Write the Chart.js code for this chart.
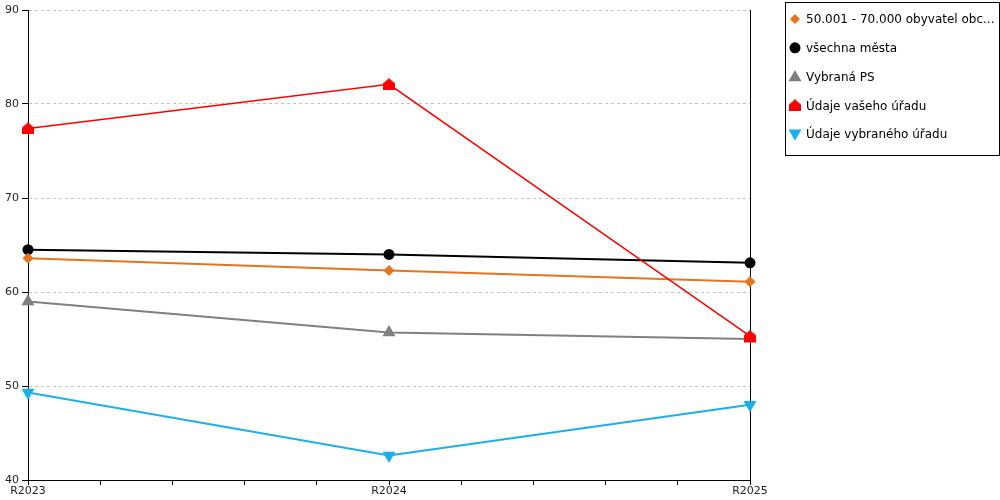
<!DOCTYPE html>
<html>
<head>
<meta charset="utf-8">
<script src="https://cdn.jsdelivr.net/npm/chart.js@4"></script>
<style>
  html, body { margin: 0; padding: 0; background: #fff; }
  #wrap { width: 1000px; height: 500px; }
</style>
</head>
<body>
<div id="wrap"><canvas id="trend"></canvas></div>
<script>
var categories = ['R2023', 'R2024', 'R2025'];
var obce = [63.6, 62.3, 61.1];
var mesta = [64.5, 64.0, 63.1];
var vybranaPS = [59.0, 55.7, 55.0];
var vasUrad = [77.4, 82.1, 55.3];
var vybranyUrad = [49.3, 42.6, 48.0];
var yTicks = [40, 50, 60, 70, 80, 90];

// house shaped marker for "Údaje vašeho úřadu"
function houseMarker(color) {
    var c = document.createElement('canvas');
    c.width = 12; c.height = 12;
    var g = c.getContext('2d');
    g.fillStyle = color;
    g.beginPath();
    g.moveTo(6, 0);
    g.lineTo(12, 5);
    g.lineTo(12, 12);
    g.lineTo(0, 12);
    g.lineTo(0, 5);
    g.closePath();
    g.fill();
    return c;
}
var house = houseMarker('#ff0000');

function pts(arr) {
    return arr.map(function (v, i) { return { x: i, y: v }; });
}

function series(label, arr, color, style, rot, width, radius) {
    return {
        label: label,
        data: pts(arr),
        borderColor: color,
        backgroundColor: color,
        pointBackgroundColor: color,
        pointBorderColor: color,
        pointBorderWidth: 0,
        borderWidth: width,
        pointStyle: style,
        rotation: rot,
        pointRadius: radius,
        pointHoverRadius: radius,
        clip: false,
        tension: 0
    };
}

var datasets = [
    series('50.001 - 70.000 obyvatel obc...', obce, '#e8731c', 'rectRot', 0, 2, 5.5),
    series('všechna města', mesta, '#000000', 'circle', 0, 2, 5.5),
    series('Vybraná PS', vybranaPS, '#808080', 'triangle', 0, 2, 7.5),
    series('Údaje vašeho úřadu', vasUrad, '#ff0000', house, 0, 1.5, 6),
    series('Údaje vybraného úřadu', vybranyUrad, '#1ab0ea', 'triangle', 180, 2, 7.5)
];
datasets[3].order = -1;

var legendRadius = [5, 5.5, 7.5, 6, 7.5];

var frame = {
    id: 'frame',
    beforeDatasetsDraw: function (chart) {
        var ctx = chart.ctx, a = chart.chartArea;
        ctx.save();
        ctx.strokeStyle = '#000';
        ctx.lineWidth = 1;
        ctx.beginPath();
        ctx.moveTo(Math.round(a.right) + 0.5, a.top);
        ctx.lineTo(Math.round(a.right) + 0.5, a.bottom);
        ctx.stroke();
        ctx.restore();
    },
    afterDraw: function (chart) {
        var ctx = chart.ctx;
        var bx = 785, by = 2, bw = 214, bh = 153;
        ctx.save();
        ctx.strokeStyle = '#000';
        ctx.lineWidth = 1;
        ctx.strokeRect(bx + 0.5, by + 0.5, bw, bh);
        ctx.font = '12px "DejaVu Sans"';
        ctx.textBaseline = 'middle';
        chart.data.datasets.forEach(function (ds, i) {
            var y = 19 + i * 28.8;
            ctx.fillStyle = ds.pointBackgroundColor;
            ctx.strokeStyle = ds.pointBorderColor;
            Chart.helpers.drawPoint(ctx, {
                pointStyle: ds.pointStyle,
                rotation: ds.rotation,
                radius: legendRadius[i],
                borderWidth: 0
            }, 795, y + (ds.pointStyle === 'triangle' ? (ds.rotation ? -1 : 1) : 0));
            ctx.fillStyle = '#000';
            ctx.fillText(ds.label, 806, y + 1);
        });
        ctx.restore();
    }
};

new Chart(document.getElementById('trend'), {
    type: 'line',
    data: { datasets: datasets },
    options: {
        responsive: true,
        maintainAspectRatio: false,
        animation: false,
        layout: { padding: { top: 10, right: 250, left: 0, bottom: 0 } },
        plugins: {
            legend: { display: false },
            tooltip: { enabled: false }
        },
        scales: {
            x: {
                type: 'linear',
                min: 0,
                max: categories.length - 1,
                afterFit: function (s) { s.height = 20; },
                afterBuildTicks: function (s) {
                    var t = [];
                    for (var k = 0; k <= 10; k++) t.push({ value: k * 0.2 });
                    s.ticks = t;
                },
                ticks: {
                    color: '#222',
                    font: { family: 'DejaVu Sans', size: 11 },
                    padding: 0,
                    maxRotation: 0,
                    autoSkip: false,
                    callback: function (v) {
                        var r = Math.round(v);
                        return Math.abs(v - r) < 1e-6 ? categories[r] : '';
                    }
                },
                grid: {
                    drawOnChartArea: false,
                    drawTicks: true,
                    tickLength: 5,
                    tickColor: '#000',
                    color: '#000'
                },
                border: { display: true, color: '#000', width: 1 }
            },
            y: {
                min: 40,
                max: 90,
                afterFit: function (s) { s.width = 28; },
                afterBuildTicks: function (s) {
                    s.ticks = yTicks.map(function (v) { return { value: v }; });
                },
                ticks: {
                    color: '#222',
                    font: { family: 'DejaVu Sans', size: 11 },
                    padding: 3
                },
                grid: {
                    color: function (c) { return c.tick && c.tick.value === 40 ? 'rgba(0,0,0,0)' : '#c4c4c4'; },
                    tickColor: '#000',
                    tickLength: 6,
                    tickBorderDash: [],
                    lineWidth: 1
                },
                border: { display: true, color: '#000', width: 1, dash: [3, 3] }
            }
        }
    },
    plugins: [frame]
});
</script>
</body>
</html>
